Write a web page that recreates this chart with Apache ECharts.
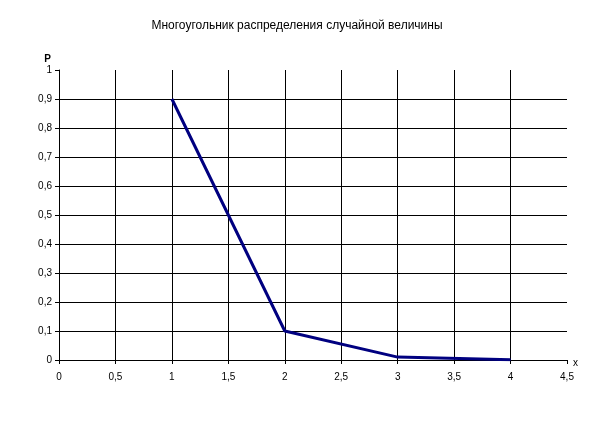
<!DOCTYPE html>
<html><head><meta charset="utf-8">
<script src="https://cdn.jsdelivr.net/npm/echarts@6/dist/echarts.min.js"></script>
<style>html,body{margin:0;padding:0;background:#fff}#c{width:594px;height:427px}</style>
</head><body><div id="c"></div>
<script>
const xValues = [1, 2, 3, 4];
const pValues = [0.9, 0.1, 0.01, 0.001];
const titleText = 'Многоугольник распределения случайной величины';
const yName = 'P';
const xName = 'x';
const fmt = v => String(v).replace('.', ',');
const xGridColors = ['#000','#000','#000','#000','#000','#000','#000','#000','#000','rgba(0,0,0,0)'];
const yGridColors = ['#000','#000','#000','#000','#000','#000','#000','#000','#000','#000','rgba(0,0,0,0)'];
const chart = echarts.init(document.getElementById('c'), null, {renderer: 'canvas'});
chart.setOption({
  animation: false,
  backgroundColor: '#fff',
  title: {text: titleText, left: 'center', top: 15,
    textStyle: {fontFamily: 'Liberation Sans, Arial', fontSize: 12, fontWeight: 'normal', color: '#000'}},
  grid: {left: 59, top: 70, width: 508, height: 290},
  xAxis: {type: 'value', min: 0, max: 4.5, interval: 0.5,
    name: xName, nameLocation: 'end', nameGap: 6,
    nameTextStyle: {fontFamily: 'Liberation Sans, Arial', fontSize: 10, color: '#000', verticalAlign: 'top', padding: [-2,0,0,0]},
    axisLine: {lineStyle: {color: '#000', width: 1}},
    axisTick: {show: true, length: 4, lineStyle: {color: '#000'}},
    axisLabel: {formatter: fmt, fontFamily: 'Liberation Sans, Arial', fontSize: 10, color: '#000', margin: 12},
    splitLine: {show: true, lineStyle: {color: xGridColors, width: 1}}},
  yAxis: {type: 'value', min: 0, max: 1, interval: 0.1,
    name: yName, nameLocation: 'end', nameGap: 6,
    nameTextStyle: {fontFamily: 'Liberation Sans, Arial', fontSize: 10, fontWeight: 'bold', color: '#000', align: 'right', padding: [0, 8, 0, 0]},
    axisLine: {show: true, lineStyle: {color: '#000', width: 1}},
    axisTick: {show: true, length: 4, lineStyle: {color: '#000'}},
    axisLabel: {formatter: fmt, fontFamily: 'Liberation Sans, Arial', fontSize: 10, color: '#000', margin: 7},
    splitLine: {show: true, lineStyle: {color: yGridColors, width: 1}}},
  series: [{type: 'line', data: xValues.map((x, i) => [x, pValues[i]]),
    showSymbol: false, symbol: 'none',
    lineStyle: {color: '#000080', width: 3}}]
});
</script></body></html>
